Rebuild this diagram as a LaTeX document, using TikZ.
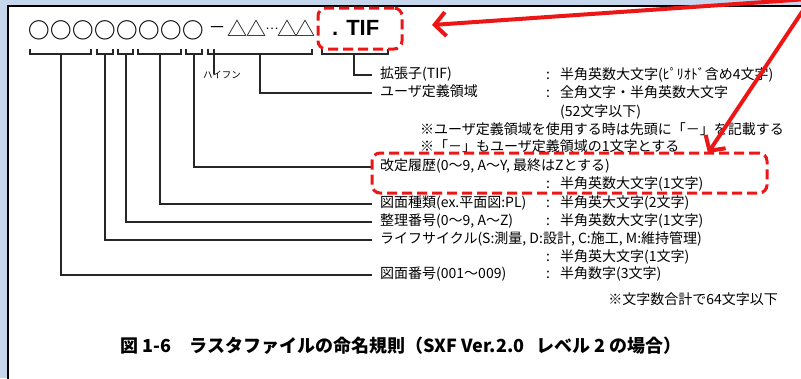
\documentclass[tikz,border=0pt]{standalone}
\usepackage{fontspec}
\setmainfont{Liberation Sans}
\newfontfamily\jp{Noto Sans CJK JP}
\usetikzlibrary{arrows.meta}
\definecolor{bgblue}{RGB}{198,214,237}
\definecolor{redmark}{RGB}{236,22,22}
\begin{document}
\begin{tikzpicture}[x=1pt,y=-1pt,
  lbl/.style={font=\jp\fontsize{14}{16}\selectfont, anchor=west, inner sep=0, text height=0.88em, text depth=0.12em},
  brk/.style={line width=1.1pt, black!85},
  redbox/.style={draw=redmark, line width=3pt, dash pattern=on 10pt off 5pt, rounded corners=8pt, inner sep=0},
  redarrow/.style={draw=redmark, line width=4pt, -{Straight Barb[length=11pt,width=24pt]}},
  circ/.style={font=\jp\bfseries\fontsize{21.5}{22}\selectfont, inner sep=0},
  tri/.style={font=\jp\fontsize{20}{20}\selectfont, inner sep=0},
]
\useasboundingbox (0,0) rectangle (801,378);
\begin{scope}
\clip (0,0) rectangle (801,378);
\fill[bgblue] (0,0) rectangle (801,378);
\filldraw[fill=white, draw=black, line width=2pt] (8,6) rectangle (840,400);

% file name pattern
\foreach \i/\x in {1/39,2/61,3/83,4/105,5/127,6/149,7/171,8/193}
  \node[circ] (c\i) at (\x,30) {○};
\node[font=\jp\fontsize{17}{17}\selectfont, inner sep=0] (hy) at (217,30) {－};
\node[tri] (t1) at (237,28) {△};
\node[tri] (t2) at (256,28) {△};
\node[font=\jp\fontsize{12}{12}\selectfont, inner sep=0] (dots) at (272,29) {…};
\node[tri] (t3) at (287,28) {△};
\node[tri] (t4) at (305,28) {△};
\node[font=\bfseries\fontsize{22}{22}\selectfont, anchor=base west, inner sep=0] (tif) at (332,35.5) {.\hspace{8pt}TIF};

% brackets
\draw[brk] (30,49) -- (30,54) -- (91,54) -- (91,49);
\draw[brk] (97,49) -- (97,54) -- (113,54) -- (113,49);
\draw[brk] (118,49) -- (118,54) -- (133,54) -- (133,49);
\draw[brk] (138,49) -- (138,54) -- (181,54) -- (181,49);
\draw[brk] (186,49) -- (186,54) -- (202,54) -- (202,49);
\draw[brk] (208,49) -- (208,54) -- (312,54) -- (312,49);
\draw[brk] (322,49) -- (322,54) -- (388,54) -- (388,49);
\coordinate (snum) at (61,54);
\coordinate (slife) at (105,54);
\coordinate (sseri) at (126,54);
\coordinate (skind) at (160,54);
\coordinate (srev) at (194,54);
\coordinate (shyph) at (214,49);
\coordinate (suser) at (260,54);
\coordinate (sext) at (354,54);

% labels
\node[font=\jp\fontsize{9.5}{10}\selectfont, inner sep=0] (lhyph) at (222,75) {ハイフン};
\node[lbl] (lext) at (380,75) {拡張子(TIF)};
\node[lbl] (cext) at (546,76) {:};
\node[lbl] (vext) at (560,76) {半角英数大文字(ﾋﾟﾘｵﾄﾞ含め4文字)};
\node[lbl] (luser) at (380,93) {ユーザ定義領域};
\node[lbl] (cuser) at (546,94) {:};
\node[lbl] (vuser) at (560,94) {全角文字・半角英数大文字};
\node[lbl] (vuser2) at (560,113) {(52文字以下)};
\node[lbl] (note1) at (420,131) {※ユーザ定義領域を使用する時は先頭に「－」を記載する};
\node[lbl] (note2) at (420,148) {※「－」もユーザ定義領域の1文字とする};
\node[lbl] (lrev) at (380,167) {改定履歴(0～9, A～Y, 最終はZとする)};
\node[lbl] (crev) at (546,185) {:};
\node[lbl] (vrev) at (560,185) {半角英数大文字(1文字)};
\node[lbl] (lkind) at (380,204) {図面種類(ex.平面図:PL)};
\node[lbl] (ckind) at (546,204) {:};
\node[lbl] (vkind) at (560,204) {半角英大文字(2文字)};
\node[lbl] (lseri) at (380,222) {整理番号(0～9, A～Z)};
\node[lbl] (cseri) at (546,222) {:};
\node[lbl] (vseri) at (560,222) {半角英数大文字(1文字)};
\node[lbl] (llife) at (380,240) {ライフサイクル(S:測量, D:設計, C:施工, M:維持管理)};
\node[lbl] (clife) at (546,258) {:};
\node[lbl] (vlife) at (560,258) {半角英大文字(1文字)};
\node[lbl] (lnum) at (380,275) {図面番号(001～009)};
\node[lbl] (cnum) at (546,275) {:};
\node[lbl] (vnum) at (560,275) {半角数字(3文字)};
\node[lbl, anchor=east] (total) at (778,301) {※文字数合計で64文字以下};

% leader lines
\draw[brk] (shyph) -- ([yshift=-3pt]lhyph.north -| shyph);
\draw[brk] (sext) |- ([xshift=-8pt]lext.west);
\draw[brk] (suser) |- ([xshift=-8pt]luser.west);
\draw[brk] (srev) |- ([xshift=-8pt]lrev.west);
\draw[brk] (skind) |- ([xshift=-8pt]lkind.west);
\draw[brk] (sseri) |- ([xshift=-8pt]lseri.west);
\draw[brk] (slife) |- ([xshift=-8pt]llife.west);
\draw[brk] (snum) |- ([xshift=-8pt]lnum.west);

% caption
\node[font=\jp\bfseries\fontsize{18}{20}\selectfont, inner sep=0] (cap) at (401,346)
  {図 1-6\hspace{18pt}ラスタファイルの命名規則（SXF Ver.2.0\hspace{12pt}レベル 2 の場合）};

% red highlights
\node[redbox, minimum width=84, minimum height=41] (box1) at (360,28.5) {};
\node[redbox, minimum width=395, minimum height=40] (box2) at (569.5,173) {};
\coordinate (a1s) at (830,-2.5);
\coordinate (a1e) at (432,25);
\coordinate (a2s) at (812,-3);
\coordinate (a2e) at (708,153);
\draw[redarrow] (a1s) -- (a1e);
\draw[redarrow] (a2s) -- (a2e);
\end{scope}
\end{tikzpicture}
\end{document}
